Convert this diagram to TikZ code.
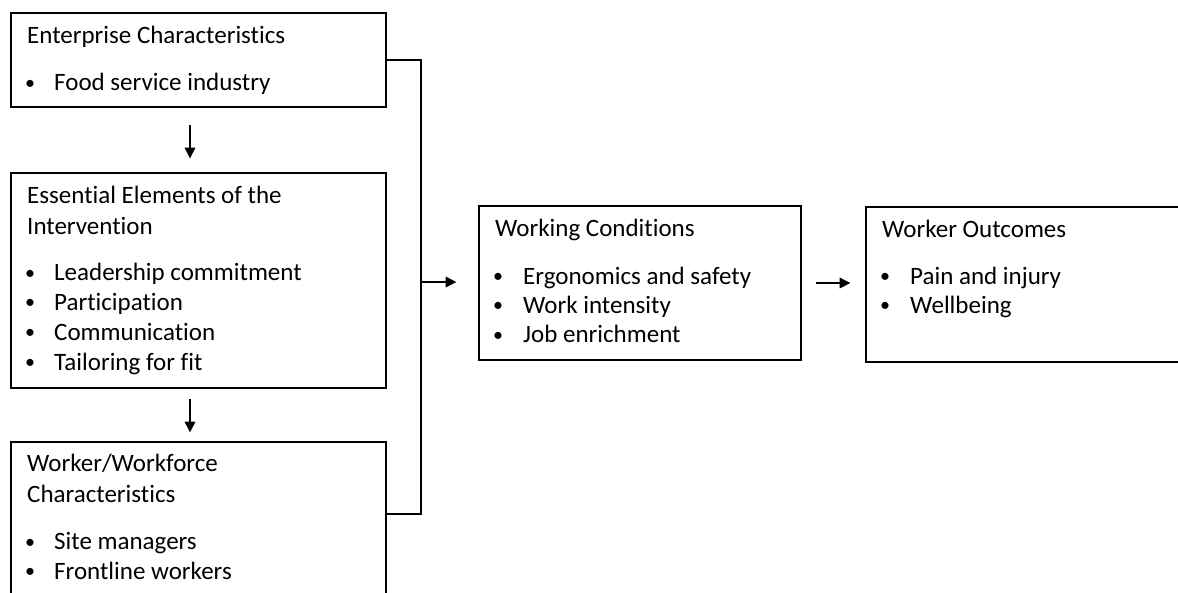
\documentclass[tikz,border=0pt]{standalone}
\usepackage{fontspec}
\setmainfont{Carlito}[Ligatures=NoCommon]
\usetikzlibrary{arrows.meta}
\begin{document}
\begin{tikzpicture}[x=1pt,y=-1pt,
  box/.style={draw, line width=2.6pt, rectangle, inner sep=0pt},
  txt/.style={anchor=base west, inner sep=0pt, font=\fontsize{25}{29}\selectfont},
  bul/.style={anchor=base, inner sep=0pt, font=\fontsize{20}{29}\selectfont, yshift=1.5pt},
  conn/.style={line width=2.6pt},
  arr/.style={line width=2.6pt, -{Triangle[length=11pt,width=10pt]}}]
\useasboundingbox (0,0) rectangle (1178,592);
\clip (0,0) rectangle (1178,592);
% boxes
\node[box, minimum width=375pt, minimum height=94pt] (ent) at (198.5,60) {};
\node[box, minimum width=375pt, minimum height=215pt] (ee) at (198.5,280.5) {};
\node[box, minimum width=375pt, minimum height=178pt] (wf) at (198.5,531) {};
\node[box, minimum width=322pt, minimum height=154pt] (wc) at (640,283) {};
\node[box, minimum width=334pt, minimum height=155pt] (wo) at (1033,284.5) {};
% texts box 1
\node[txt] (t1) at (27,43.5) {Enterprise Characteristics};
\node[bul] (b1a) at (30,90.5) {•};
\node[txt] (t1a) at (54,90.5) {Food service industry};
% box 2
\node[txt] (t2) at (27,203.5) {Essential Elements of the};
\node[txt] (t2b) at (27,234) {Intervention};
\node[bul] (b2a) at (30,280.5) {•};
\node[txt] (t2c) at (54,280.5) {Leadership commitment};
\node[bul] (b2b) at (30,310) {•};
\node[txt] (t2d) at (54,310) {Participation};
\node[bul] (b2c) at (30,340) {•};
\node[txt] (t2e) at (54,340) {Communication};
\node[bul] (b2d) at (30,370) {•};
\node[txt] (t2f) at (54,370) {Tailoring for fit};
% box 3
\node[txt] (t3) at (27,471.5) {Worker/Workforce};
\node[txt] (t3b) at (27,502.5) {Characteristics};
\node[bul] (b3a) at (30,549.5) {•};
\node[txt] (t3c) at (54,549.5) {Site managers};
\node[bul] (b3b) at (30,579) {•};
\node[txt] (t3d) at (54,579) {Frontline workers};
% working conditions
\node[txt] (t4) at (495,236.5) {Working Conditions};
\node[bul] (b4a) at (498,284) {•};
\node[txt] (t4a) at (523,284) {Ergonomics and safety};
\node[bul] (b4b) at (498,313) {•};
\node[txt] (t4b) at (523,313) {Work intensity};
\node[bul] (b4c) at (498,342.5) {•};
\node[txt] (t4c) at (523,342.5) {Job enrichment};
% worker outcomes
\node[txt] (t5) at (882,237) {Worker Outcomes};
\node[bul] (b5a) at (885,284) {•};
\node[txt] (t5a) at (910,284) {Pain and injury};
\node[bul] (b5b) at (885,313) {•};
\node[txt] (t5b) at (910,313) {Wellbeing};
% connectors
\coordinate (j) at (421,282);
\coordinate (wfj) at (386,514);
\draw[conn] (ent.east) -| (j) |- (wfj);
\draw[arr, shorten <=17pt, shorten >=13pt] ([xshift=-8.5pt]ent.south) -- ([xshift=-8.5pt]ee.north);
\draw[arr, shorten <=10pt, shorten >=8pt] ([xshift=-8.5pt]ee.south) -- ([xshift=-8.5pt]wf.north);
\draw[arr, shorten >=21pt] (j) -- (j -| wc.west);
\draw[arr, shorten <=14pt, shorten >=14pt] (wc.east) -- (wc.east -| wo.west);
\end{tikzpicture}
\end{document}
